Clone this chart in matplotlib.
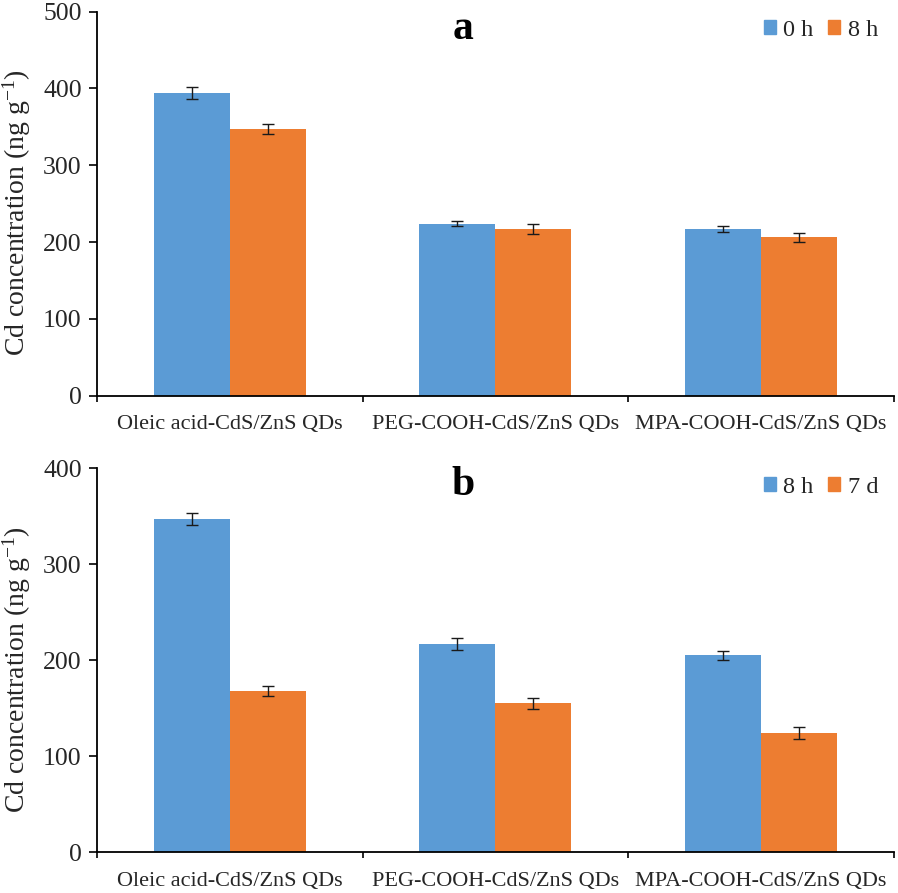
import matplotlib
matplotlib.use("Agg")
import matplotlib.pyplot as plt
import numpy as np
from matplotlib.patches import Patch

plt.rcParams['font.family'] = ['Liberation Serif', 'DejaVu Serif']
plt.rcParams['mathtext.fontset'] = 'custom'
plt.rcParams['mathtext.rm'] = 'Liberation Serif'
plt.rcParams['mathtext.it'] = 'Liberation Serif:italic'
plt.rcParams['mathtext.bf'] = 'Liberation Serif:bold'

categories = ["Oleic acid-CdS/ZnS QDs", "PEG-COOH-CdS/ZnS QDs", "MPA-COOH-CdS/ZnS QDs"]

# Panel a
a_labels = ["0 h", "8 h"]
a_0h = [394, 224, 217]
a_0h_err = [8, 3.5, 4]
a_8h = [347, 217, 206]
a_8h_err = [6.5, 6, 6]

# Panel b
b_labels = ["8 h", "7 d"]
b_8h = [347, 217, 205]
b_8h_err = [6.5, 6, 4.5]
b_7d = [168, 155, 124]
b_7d_err = [5.5, 6, 6.5]

BLUE = "#5B9BD5"
ORANGE = "#ED7D31"
TXT = "#262626"

fig = plt.figure(figsize=(8.98, 8.93), dpi=100)
ax_a = fig.add_axes([0.108, 0.5569, 0.8875, 0.4300])
ax_b = fig.add_axes([0.108, 0.0456, 0.8875, 0.4303])


def draw(ax, s1, e1, s2, e2, labels, ymax, panel, ypos, leg_y, lab_y):
    x = np.arange(len(categories)) + 0.5
    w = 0.286
    ekw = dict(ecolor="#1a1a1a", elinewidth=1.0, capsize=4, capthick=1.0)
    ax.bar(x - w / 2, s1, w, color=BLUE, yerr=e1, error_kw=ekw, label=labels[0], zorder=2)
    ax.bar(x + w / 2, s2, w, color=ORANGE, yerr=e2, error_kw=ekw, label=labels[1], zorder=2)
    ax.set_xlim(0, len(categories))
    ax.set_ylim(0, ymax)
    ax.set_yticks(np.arange(0, ymax + 1, 100))
    ax.set_xticks(np.arange(0, len(categories) + 1))
    ax.set_xticklabels([])
    ax.set_xticks(x, minor=True)
    ax.set_xticklabels(categories, minor=True, fontsize=16, color=TXT)
    ax.tick_params(axis='x', which='minor', length=0, pad=14)
    ax.tick_params(axis='x', which='major', length=4.5, width=1.2, direction='out')
    ax.tick_params(axis='y', length=6, width=1.2, direction='out', labelsize=18.5,
                   labelcolor=TXT, pad=5)
    for s in ['top', 'right']:
        ax.spines[s].set_visible(False)
    for s in ['left', 'bottom']:
        ax.spines[s].set_linewidth(1.3)
        ax.spines[s].set_color('black')
    ax.set_ylabel("Cd concentration (ng g$^{\\mathregular{-1}}$)", fontsize=20, color=TXT)
    ax.yaxis.set_label_coords(-0.080, lab_y)
    ax.text(0.459, ypos, panel, transform=ax.transAxes, fontsize=30, fontweight='bold',
            ha='center', va='center')
    handles = [Patch(color=BLUE), Patch(color=ORANGE)]
    leg = ax.legend(handles, labels, loc='upper right', ncol=2, frameon=False,
                    fontsize=17.5, handlelength=0.5, handleheight=0.5,
                    handletextpad=0.3, columnspacing=0.6, borderaxespad=0.0,
                    borderpad=0.0, bbox_to_anchor=(0.98, leg_y))
    for t in leg.get_texts():
        t.set_color(TXT)
    return leg


draw(ax_a, a_0h, a_0h_err, a_8h, a_8h_err, a_labels, 500, 'a', 0.955, 0.979, 0.477)
draw(ax_b, b_8h, b_8h_err, b_7d, b_7d_err, b_labels, 400, 'b', 0.955, 0.977, 0.474)

fig.savefig("out.png", dpi=100)
